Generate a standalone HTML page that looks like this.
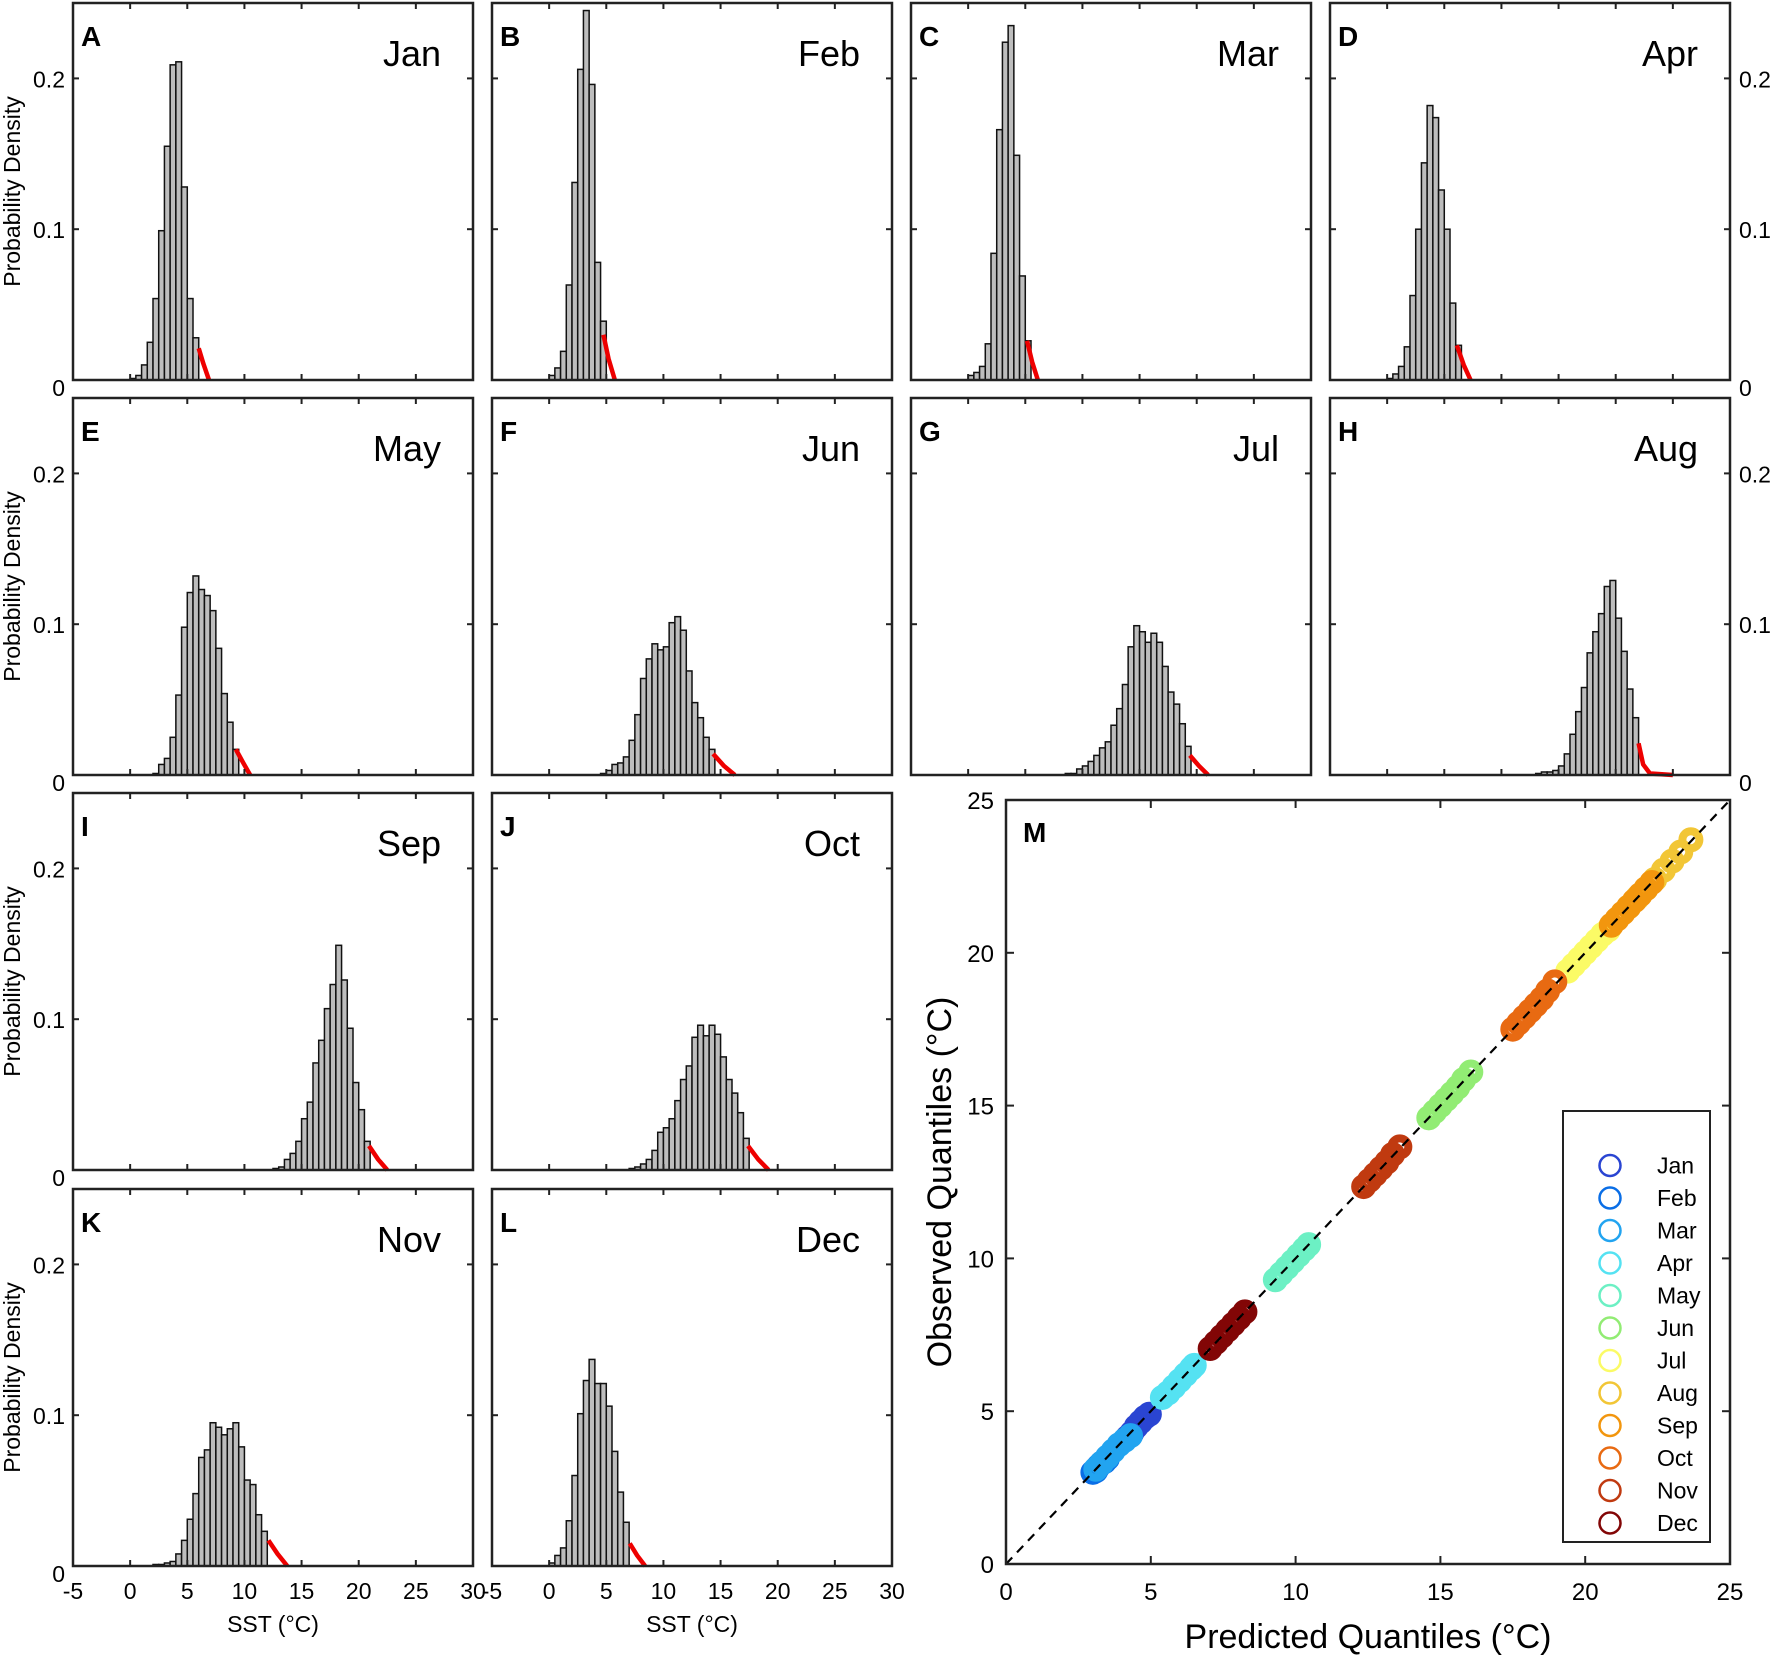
<!DOCTYPE html>
<html><head><meta charset="utf-8">
<style>
html,body{margin:0;padding:0;background:#fff;}
svg{display:block;font-family:"Liberation Sans",Arial,sans-serif;}
</style></head>
<body>
<svg id="fig" width="1772" height="1658" viewBox="0 0 1772 1658" xmlns="http://www.w3.org/2000/svg"></svg>
<script>
// ---------- histogram data (bin width 0.5 °C) ----------
const months = ["Jan","Feb","Mar","Apr","May","Jun","Jul","Aug","Sep","Oct","Nov","Dec"];
const letters = ["A","B","C","D","E","F","G","H","I","J","K","L"];
const binStart = [0, 0, 0, 0, 2.0, 4.5, 8.5, 13.0, 12.5, 7.0, 2.0, 0];
const hJan = [0.001,0.003,0.010,0.025,0.054,0.099,0.155,0.209,0.211,0.128,0.054,0.028];
const hFeb = [0.003,0.008,0.019,0.063,0.131,0.206,0.245,0.196,0.078,0.039];
const hMar = [0.003,0.005,0.009,0.024,0.084,0.166,0.224,0.235,0.149,0.069,0.026];
const hApr = [0.001,0.004,0.009,0.022,0.056,0.100,0.144,0.182,0.174,0.126,0.100,0.051,0.023];
const hMay = [0.001,0.007,0.011,0.025,0.053,0.098,0.121,0.132,0.123,0.119,0.109,0.084,0.054,0.035,0.017];
const hJun = [0.001,0.003,0.007,0.008,0.012,0.023,0.040,0.064,0.077,0.087,0.083,0.085,0.101,0.105,0.096,0.069,0.048,0.038,0.025,0.017];
const hJul = [0.001,0.001,0.004,0.006,0.009,0.013,0.018,0.022,0.033,0.044,0.060,0.085,0.099,0.095,0.088,0.094,0.088,0.072,0.055,0.047,0.034,0.019];
const hAug = [0.001,0.002,0.002,0.003,0.006,0.014,0.027,0.042,0.058,0.081,0.095,0.107,0.125,0.129,0.104,0.082,0.057,0.038];
const hSep = [0.001,0.002,0.007,0.011,0.019,0.034,0.045,0.071,0.086,0.107,0.123,0.149,0.126,0.094,0.058,0.040,0.019];
const hOct = [0.001,0.002,0.004,0.007,0.013,0.025,0.028,0.034,0.046,0.060,0.069,0.088,0.096,0.089,0.096,0.090,0.075,0.060,0.051,0.038,0.021];
const hNov = [0.001,0.001,0.002,0.003,0.008,0.017,0.031,0.048,0.072,0.077,0.095,0.092,0.087,0.091,0.095,0.079,0.057,0.054,0.034,0.023];
const hDec = [0.002,0.007,0.012,0.030,0.060,0.101,0.123,0.137,0.121,0.121,0.106,0.076,0.049,0.029];
const hists = [hJan,hFeb,hMar,hApr,hMay,hJun,hJul,hAug,hSep,hOct,hNov,hDec];
// ---------- GPD tail fits (x °C, density) ----------
const tailX = [[6.0,6.4,6.9],[4.75,5.2,5.75],[5.15,5.6,6.1],[6.1,6.7,7.3],[9.25,9.9,10.5],[14.35,15.3,16.25],[19.4,20.2,21.0],[22.0,22.4,23.0,25.0],[20.9,21.7,22.5],[17.4,18.3,19.2],[12.1,12.9,13.75],[7.05,7.7,8.4]];
const tailY = [[0.021,0.011,0.0],[0.030,0.014,0.0],[0.026,0.012,0.0],[0.023,0.010,0.0],[0.017,0.008,0.0],[0.014,0.006,0.0],[0.013,0.006,0.0],[0.021,0.007,0.001,0.0],[0.016,0.007,0.0],[0.016,0.007,0.0],[0.017,0.008,0.0],[0.015,0.007,0.0]];
const xTicks = [-5,0,5,10,15,20,25,30];
const yTicks = [0,0.1,0.2];
const yTickLabels = ["0","0.1","0.2"];
// ---------- Q-Q data ----------
const qqColors = ["#2a45d2","#0a6ee6","#22a4f0","#55e2f2","#6cf0c4","#92ec74","#fbfb66","#f2c636","#f2960e","#e86a12","#c03a10","#820606"];
const qqPred = [
 [4.2,4.35,4.5,4.65,4.8,4.95],
 [3.0,3.1,3.2,3.3,3.4,3.5],
 [3.1,3.3,3.5,3.7,3.9,4.1,4.3],
 [5.4,5.6,5.8,6.0,6.2,6.4,6.5],
 [9.3,9.5,9.7,9.9,10.1,10.3,10.45],
 [14.6,14.8,15.0,15.2,15.4,15.6,15.8,16.05],
 [19.4,19.6,19.8,20.0,20.2,20.4,20.6,20.8],
 [21.5,21.8,22.1,22.4,22.7,23.0,23.3,23.65],
 [20.9,21.1,21.3,21.5,21.7,21.9,22.1,22.3],
 [17.5,17.7,17.9,18.1,18.3,18.5,18.7,18.95],
 [12.35,12.55,12.75,12.95,13.15,13.35,13.6],
 [7.05,7.25,7.45,7.65,7.85,8.05,8.25]];
const qqObs = [
 [4.15,4.3,4.5,4.65,4.8,4.9],
 [3.0,3.05,3.2,3.3,3.35,3.45],
 [3.1,3.3,3.5,3.7,3.9,4.05,4.2],
 [5.45,5.6,5.8,6.0,6.2,6.4,6.5],
 [9.3,9.5,9.7,9.9,10.1,10.3,10.45],
 [14.6,14.8,15.0,15.2,15.4,15.6,15.85,16.1],
 [19.4,19.6,19.8,20.0,20.2,20.4,20.6,20.75],
 [21.5,21.8,22.1,22.4,22.7,23.0,23.3,23.7],
 [20.9,21.1,21.3,21.5,21.7,21.9,22.1,22.3],
 [17.5,17.7,17.9,18.1,18.3,18.5,18.75,19.05],
 [12.35,12.55,12.75,12.95,13.15,13.4,13.65],
 [7.05,7.25,7.45,7.65,7.85,8.05,8.25]];
const qqTicks = [0,5,10,15,20,25];

const NS="http://www.w3.org/2000/svg";
const svg=document.getElementById("fig");
function mk(tag,attrs,parent){const e=document.createElementNS(NS,tag);for(const k in attrs)e.setAttribute(k,attrs[k]);(parent||svg).appendChild(e);return e;}
function txt(s,attrs,parent){const e=mk("text",attrs,parent);e.textContent=s;return e;}

const colX=[73,492,911,1330], rowY=[3,398,793,1189], PW=400, PH=377;
for(let m=0;m<12;m++){
  const col=m<8?m%4:(m-8)%2, row=m<8?Math.floor(m/4):2+Math.floor((m-8)/2);
  const L=colX[col], T=rowY[row], B=T+PH, R=L+PW;
  const sx=v=>L+(v+5)/35*PW, sy=v=>B-v/0.25*PH;
  const g=mk("g",{});
  
  
  const h=hists[m];
  for(let i=0;i<h.length;i++){
    const x0=binStart[m]+i*0.5;
    const r=mk("rect",{x:sx(x0),y:sy(h[i]),width:sx(x0+0.5)-sx(x0),height:B-sy(h[i]),fill:"#bdbdbd",stroke:"#111","stroke-width":1.5},g);
    
    
  }
  const tx=tailX[m], ty=tailY[m];
  let d="M"+sx(tx[0])+","+sy(ty[0]);
  for(let i=1;i<tx.length;i++) d+=" L"+sx(tx[i])+","+sy(ty[i]);
  const tp=mk("path",{d:d,fill:"none",stroke:"#ee0000","stroke-width":4.5,"stroke-linejoin":"round"},g);
  
  
  const fr=mk("rect",{x:L,y:T,width:PW,height:PH,fill:"none",stroke:"#222","stroke-width":2.5},g);
  
  
  for(const v of xTicks){const x=sx(v);
    mk("line",{x1:x,y1:B,x2:x,y2:B-6,stroke:"#222","stroke-width":2},g);
    mk("line",{x1:x,y1:T,x2:x,y2:T+6,stroke:"#222","stroke-width":2},g);}
  for(const v of yTicks){const y=sy(v);
    mk("line",{x1:L,y1:y,x2:L+6,y2:y,stroke:"#222","stroke-width":2},g);
    mk("line",{x1:R,y1:y,x2:R-6,y2:y,stroke:"#222","stroke-width":2},g);}
  const lt=txt(letters[m],{x:L+8,y:T+43,"font-size":28,"font-weight":"bold",fill:"#000"},g);
  
  
  const mt=txt(months[m],{x:R-32,y:T+63,"font-size":36,"text-anchor":"end",fill:"#000"},g);
  
  
  if(col===0){
    yTicks.forEach((v,i)=>{const t=txt(yTickLabels[i],{x:L-8,y:sy(v)+(i===0?16:9),"font-size":23,"text-anchor":"end"},g);
      
      });
    const yl=txt("Probability Density",{x:0,y:0,"font-size":23,"text-anchor":"middle",transform:`translate(20,${(T+B)/2}) rotate(-90)`},g);
    
    
  }
  if(col===3){
    yTicks.forEach((v,i)=>{const t=txt(yTickLabels[i],{x:R+9,y:sy(v)+(i===0?16:9),"font-size":23},g);
      
      });
  }
  if(row===3){
    xTicks.forEach(v=>{const t=txt(String(v),{x:sx(v),y:B+33,"font-size":23,"text-anchor":"middle"},g);
      
      });
    const xl=txt("SST (°C)",{x:(L+R)/2,y:B+66,"font-size":23,"text-anchor":"middle"},g);
    
    
  }
}

// ---------- Q-Q panel M ----------
const ML=1006, MR=1730, MT=800, MB=1564;
const qx=v=>ML+v/25*(MR-ML), qy=v=>MB-v/25*(MB-MT);
const gm=mk("g",{});


for(let m=0;m<12;m++){
  const gg=mk("g",{},gm);
  
  
  for(let i=0;i<qqPred[m].length;i++){
    const c=mk("circle",{cx:qx(qqPred[m][i]),cy:qy(qqObs[m][i]),r:8.5,fill:"none",stroke:qqColors[m],"stroke-width":8},gg);
    
    
  }
}
const dl=mk("line",{x1:qx(0),y1:qy(0),x2:qx(25),y2:qy(25),stroke:"#000","stroke-width":2.2,"stroke-dasharray":"9,7"},gm);


const mf=mk("rect",{x:ML,y:MT,width:MR-ML,height:MB-MT,fill:"none",stroke:"#222","stroke-width":2.5},gm);


for(const v of qqTicks){
  mk("line",{x1:qx(v),y1:MB,x2:qx(v),y2:MB-8,stroke:"#222","stroke-width":2},gm);
  mk("line",{x1:qx(v),y1:MT,x2:qx(v),y2:MT+8,stroke:"#222","stroke-width":2},gm);
  mk("line",{x1:ML,y1:qy(v),x2:ML+8,y2:qy(v),stroke:"#222","stroke-width":2},gm);
  mk("line",{x1:MR,y1:qy(v),x2:MR-8,y2:qy(v),stroke:"#222","stroke-width":2},gm);
  const tx1=txt(String(v),{x:qx(v),y:MB+36,"font-size":24,"text-anchor":"middle"},gm);
  
  
  const ty1=txt(String(v),{x:ML-12,y:qy(v)+9,"font-size":24,"text-anchor":"end"},gm);
  
  
}
const ml=txt("M",{x:ML+17,y:MT+42,"font-size":28,"font-weight":"bold"},gm);


const qxl=txt("Predicted Quantiles (°C)",{x:(ML+MR)/2,y:1648,"font-size":34,"text-anchor":"middle"},gm);


const qyl=txt("Observed Quantiles (°C)",{x:0,y:0,"font-size":34,"text-anchor":"middle",transform:`translate(951,${(MT+MB)/2}) rotate(-90)`},gm);


// legend
const lg=mk("g",{},gm);


mk("rect",{x:1563,y:1111,width:147,height:431,fill:"#fff",stroke:"#222","stroke-width":2},lg);
for(let m=0;m<12;m++){
  const cy=1165.5+m*32.5;
  const e=mk("g",{},lg);
  
  
  mk("circle",{cx:1610,cy:cy,r:10.5,fill:"none",stroke:qqColors[m],"stroke-width":2.5},e);
  txt(months[m],{x:1657,y:cy+8,"font-size":23},e);
}
</script>
</body></html>
